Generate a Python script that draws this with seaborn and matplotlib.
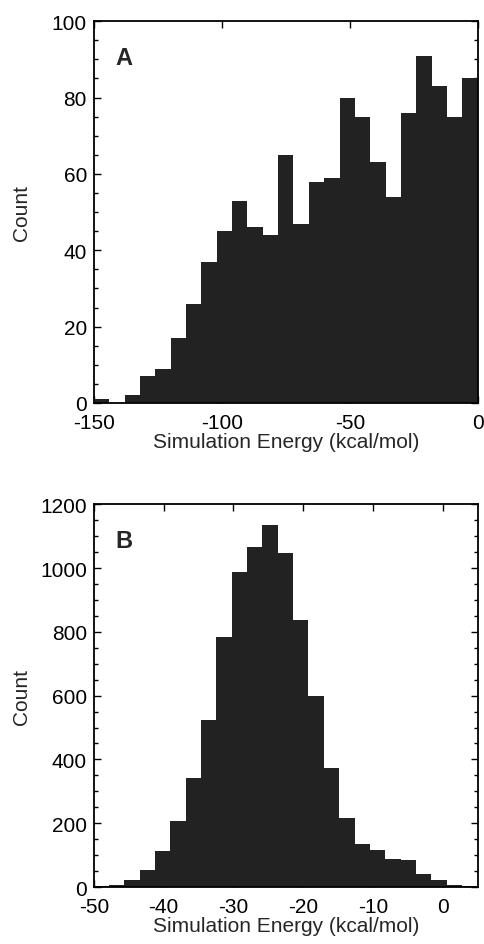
import numpy as np
import pandas as pd
import matplotlib
matplotlib.use("Agg")
import matplotlib.pyplot as plt
import seaborn as sns
from matplotlib.ticker import MultipleLocator

# ---- data ----
counts_a = [1, 0, 2, 7, 9, 17, 26, 37, 45, 53, 46, 44, 65, 47, 58, 59,
            80, 75, 63, 54, 76, 91, 83, 75, 85]
bin_start_a, bin_width_a = -150.0, 6.0

counts_b = [2, 7, 21, 54, 113, 207, 342, 523, 784, 988, 1066, 1134, 1047,
            838, 598, 373, 217, 135, 117, 89, 85, 42, 23, 7, 2]
bin_start_b, bin_width_b = -50.05, 2.2

xticks_a = [-150, -100, -50, 0]
yticks_a = [0, 20, 40, 60, 80, 100]
xticks_b = [-50, -40, -30, -20, -10, 0]
yticks_b = [0, 200, 400, 600, 800, 1000, 1200]

xlabel = "Simulation Energy (kcal/mol)"
ylabel = "Count"
panel_labels = ["A", "B"]

sns.set_theme(style="ticks")
plt.rcParams['font.family'] = ['Liberation Sans', 'DejaVu Sans']
plt.rcParams['axes.unicode_minus'] = False

fig = plt.figure(figsize=(4.84, 9.45), dpi=100)
ax_a = fig.add_axes([0.194, 0.5725, 0.793, 0.404])
ax_b = fig.add_axes([0.194, 0.0603, 0.793, 0.405])

bar_color = "#222222"

def draw(ax, counts, start, width, xlim, ylim, xticks, yticks, yminor, label):
    n = len(counts)
    centers = start + width * (np.arange(n) + 0.5)
    df = pd.DataFrame({"x": centers, "w": counts})
    sns.histplot(data=df, x="x", weights="w", binwidth=width,
                 binrange=(start, start + n * width), ax=ax,
                 color=bar_color, alpha=1, linewidth=0, edgecolor=bar_color)
    ax.set_xlim(*xlim)
    ax.set_ylim(*ylim)
    ax.set_xticks(xticks)
    ax.set_yticks(yticks)
    ax.yaxis.set_minor_locator(MultipleLocator(yminor))
    ax.tick_params(which="both", direction="in", top=True, right=True,
                   labelsize=15, colors="black", width=1.0)
    ax.tick_params(which="major", length=5)
    ax.tick_params(axis="x", which="major", pad=7)
    ax.tick_params(axis="y", which="major", pad=5)
    ax.tick_params(which="minor", length=3)
    for s in ax.spines.values():
        s.set_linewidth(1.3)
        s.set_color("black")
    ax.set_xlabel(xlabel, fontsize=15, labelpad=0)
    ax.set_ylabel(ylabel, fontsize=15)
    ax.yaxis.set_label_coords(-0.165, 0.5)
    ax.text(0.055, 0.935, label, transform=ax.transAxes, fontsize=17,
            fontweight="bold", va="top", ha="left")

draw(ax_a, counts_a, bin_start_a, bin_width_a, (-150, 0), (0, 100),
     xticks_a, yticks_a, 5, panel_labels[0])
draw(ax_b, counts_b, bin_start_b, bin_width_b, (-50, 5), (0, 1200),
     xticks_b, yticks_b, 50, panel_labels[1])

fig.savefig("out.png", dpi=100)
